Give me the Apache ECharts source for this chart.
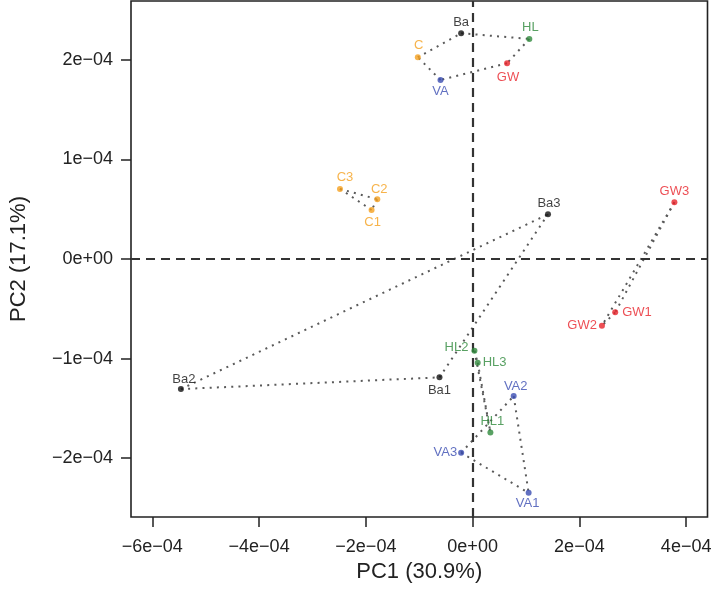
<!DOCTYPE html>
<html>
<head>
<meta charset="utf-8">
<script src="https://cdn.jsdelivr.net/npm/echarts@6/dist/echarts.min.js"></script>
<style>
html,body{margin:0;padding:0;background:#fff;}
#chart{width:716px;height:593px;}
</style>
</head>
<body>
<div id="chart"></div>
<script>
// ---- data ----
const sampleNames = ["Ba","HL","C","VA","GW","C3","C2","C1","Ba3","GW3","GW1","GW2","Ba2","HL2","HL3","Ba1","VA2","HL1","VA3","VA1"];
const pc1 = [-0.215e-4, 1.062e-4, -1.027e-4, -0.602e-4, 0.645e-4, -2.485e-4, -1.786e-4, -1.893e-4, 1.412e-4, 3.780e-4, 2.671e-4, 2.422e-4, -5.465e-4, 0.034e-4, 0.095e-4, -0.621e-4, 0.769e-4, 0.333e-4, -0.215e-4, 1.049e-4];
const pc2 = [2.268e-4, 2.211e-4, 2.027e-4, 1.799e-4, 1.967e-4, 0.704e-4, 0.600e-4, 0.492e-4, 0.449e-4, 0.570e-4, -0.536e-4, -0.670e-4, -1.307e-4, -0.922e-4, -1.042e-4, -1.189e-4, -1.377e-4, -1.742e-4, -1.947e-4, -2.349e-4];
const sampleGroup = ["Ba","HL","C","VA","GW","C","C","C","Ba","GW","GW","GW","Ba","HL","HL","Ba","VA","HL","VA","VA"];
const groups = ["Ba","HL","C","GW","VA"];
const edges = [
  ["Ba","HL"],["HL","GW"],["GW","VA"],["VA","C"],["C","Ba"],
  ["C3","C2"],["C3","C1"],["C2","C1"],
  ["Ba2","Ba3"],["Ba2","Ba1"],["Ba1","Ba3"],
  ["GW3","GW1"],["GW3","GW2"],["GW1","GW2"],
  ["HL2","HL3"],["HL2","HL1"],["HL3","HL1"],
  ["VA2","VA1"],["VA3","VA1"],["VA3","VA2"]
];
const xTicks = [-6e-4,-4e-4,-2e-4,0,2e-4,4e-4];
const xTickLabels = ["\u22126e\u221204","\u22124e\u221204","\u22122e\u221204","0e+00","2e\u221204","4e\u221204"];
const yTicks = [-2e-4,-1e-4,0,1e-4,2e-4];
const yTickLabels = ["\u22122e\u221204","\u22121e\u221204","0e+00","1e\u221204","2e\u221204"];
const xTitle = "PC1 (30.9%)";
const yTitle = "PC2 (17.1%)";

// ---- styles ----
const groupColor = {Ba:"#111111", HL:"#2f8a3c", C:"#f5a01e", GW:"#e8232a", VA:"#3a4cb2"};
const labelPlace = {
  Ba:["top",1,[0,0]], HL:["top",2,[1,0]], C:["top",2,[1,0]], VA:["bottom",2,[0,0]], GW:["bottom",5,[1,0]],
  C3:["top",2,[5,0]], C2:["top",0,[2,0]], C1:["bottom",3,[1,0]], Ba3:["top",1,[1,0]], GW3:["top",1,[0,0]],
  GW1:["right",4,[0,0]], GW2:["left",2,[0,0]], Ba2:["top",0,[3,0]], HL2:["left",3,[0,-3]], HL3:["right",2,[0,0]],
  Ba1:["bottom",4,[0,0]], VA2:["top",0,[2,0]], HL1:["top",1,[2,0]], VA3:["left",1,[0,0]], VA1:["bottom",1,[-1,0]]
};

const idx = n => sampleNames.indexOf(n);
const lineData = edges.map(e => ({coords: [[pc1[idx(e[0])], pc2[idx(e[0])]], [pc1[idx(e[1])], pc2[idx(e[1])]]]}));

const series = [];
series.push({
  type: "lines", coordinateSystem: "cartesian2d", silent: true, z: 2,
  lineStyle: {color: "#5a5a5a", width: 2, type: [2, 5.2], cap: "butt", opacity: 1},
  data: lineData
});
series.push({
  type: "line", data: [], silent: true, z: 1,
  markLine: {
    silent: true, symbol: "none", label: {show: false},
    lineStyle: {color: "#333", width: 2.2, type: [9, 6]},
    data: [{xAxis: 0}, {yAxis: 0}]
  }
});
groups.forEach(g => {
  const d = [];
  sampleNames.forEach((n, i) => {
    if (sampleGroup[i] !== g) return;
    const lp = labelPlace[n];
    d.push({name: n, value: [pc1[i], pc2[i]], label: {position: lp[0], distance: lp[1], offset: lp[2]}});
  });
  series.push({
    type: "scatter", name: g, data: d, symbolSize: 6, z: 5, silent: true,
    itemStyle: {color: groupColor[g]},
    label: {show: true, formatter: "{b}", color: groupColor[g], fontSize: 13, fontFamily: "Liberation Sans, Arial, sans-serif"}
  });
});

const chart = echarts.init(document.getElementById("chart"), null, {renderer: "canvas"});
chart.setOption({
  animation: false,
  backgroundColor: "#fff",
  grid: {left: 130, right: 8.5, top: 1, bottom: 76, show: true, borderColor: "#222", borderWidth: 1.6, backgroundColor: "transparent"},
  xAxis: {
    type: "value", min: -6.4e-4, max: 4.4e-4,
    name: xTitle, nameLocation: "middle", nameGap: 42,
    nameTextStyle: {fontSize: 22, color: "#222", fontFamily: "Liberation Sans, Arial, sans-serif"},
    splitLine: {show: false},
    axisLine: {show: false, onZero: false},
    axisTick: {show: true, customValues: xTicks, length: 10, inside: false, lineStyle: {color: "#222", width: 1.5}},
    axisLabel: {show: true, customValues: xTicks, margin: 21, fontSize: 18, color: "#222",
      fontFamily: "Liberation Sans, Arial, sans-serif",
      formatter: v => { const k = xTicks.findIndex(t => Math.abs(t - v) < 1e-9); return k >= 0 ? xTickLabels[k] : ""; }}
  },
  yAxis: {
    type: "value", min: -2.592e-4, max: 2.592e-4,
    name: yTitle, nameLocation: "middle", nameGap: 101, nameRotate: 90,
    nameTextStyle: {fontSize: 22, color: "#222", fontFamily: "Liberation Sans, Arial, sans-serif"},
    splitLine: {show: false},
    axisLine: {show: false, onZero: false},
    axisTick: {show: true, customValues: yTicks, length: 10, inside: false, lineStyle: {color: "#222", width: 1.5}},
    axisLabel: {show: true, customValues: yTicks, margin: 18, fontSize: 18, color: "#222",
      fontFamily: "Liberation Sans, Arial, sans-serif",
      formatter: v => { const k = yTicks.findIndex(t => Math.abs(t - v) < 1e-9); return k >= 0 ? yTickLabels[k] : ""; }}
  },
  series: series
});
</script>
</body>
</html>
